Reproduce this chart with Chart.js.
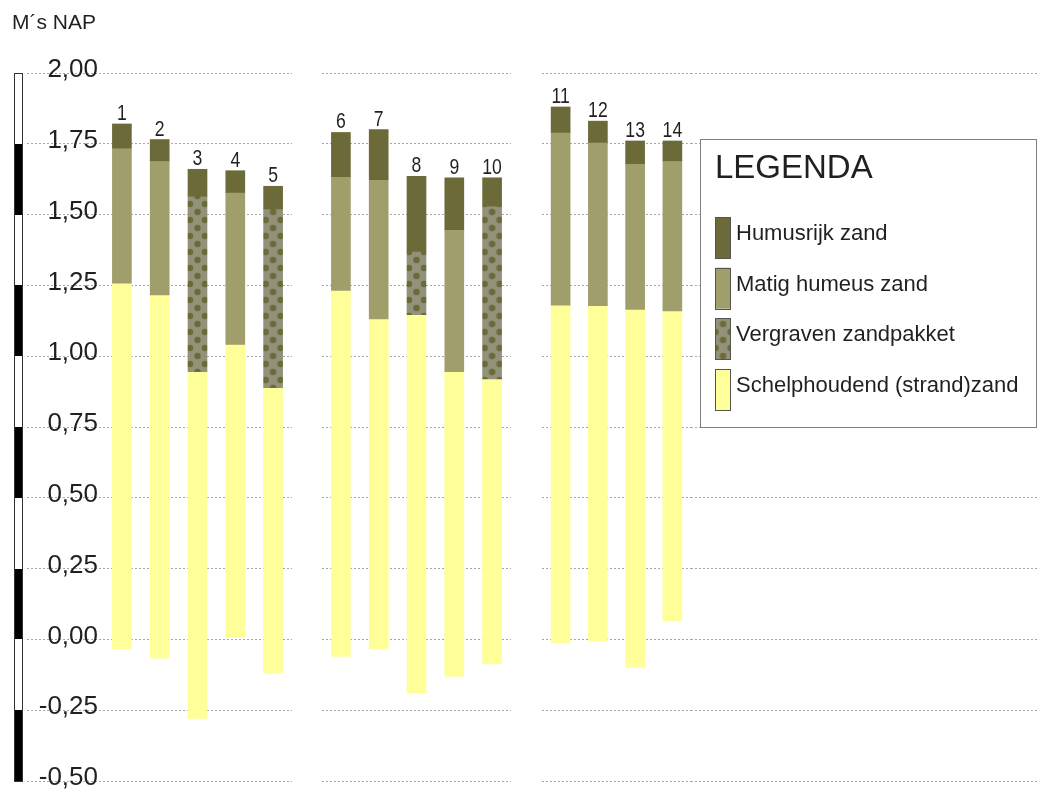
<!DOCTYPE html>
<html lang="nl">
<head>
<meta charset="utf-8">
<title>Boringen - M´s NAP</title>
<script src="https://cdn.jsdelivr.net/npm/chart.js@4.4.1/dist/chart.umd.min.js"></script>
<style>
  html, body { margin: 0; padding: 0; background: #fff; }
  #wrap { position: relative; width: 1037px; height: 793px; overflow: hidden; }
  #wrap canvas { position: absolute; left: 0; top: 0; }
</style>
</head>
<body>
<div id="wrap">
  <canvas id="groep1" width="1037" height="793"></canvas>
  <canvas id="groep2" width="1037" height="793"></canvas>
  <canvas id="groep3" width="1037" height="793"></canvas>
</div>
<script>
// Boringnummers en laaggrenzen (m t.o.v. NAP)
const boringen = ['1', '2', '3', '4', '5', '6', '7', '8', '9', '10', '11', '12', '13', '14'];
const groepen = [[0, 5], [5, 10], [10, 14]];

const bovenkant       = [1.82, 1.765, 1.66, 1.655, 1.60, 1.79, 1.80, 1.635, 1.63, 1.63, 1.88, 1.83, 1.76, 1.76];
const humusrijkOnder  = [1.735, 1.69, 1.565, 1.578, 1.52, 1.634, 1.623, 1.37, 1.447, 1.53, 1.79, 1.755, 1.68, 1.69];
const matigOnder      = [1.258, 1.216, null, 1.042, null, 1.232, 1.132, null, 0.945, null, 1.18, 1.178, 1.165, 1.16];
const vergravenOnder  = [null, null, 0.945, null, 0.889, null, null, 1.147, null, 0.92, null, null, null, null];
const strandzandOnder = [-0.033, -0.066, -0.279, 0.007, -0.118, -0.06, -0.034, -0.19, -0.13, -0.087, -0.012, -0.006, -0.099, 0.065];

const yTicks = [2.0, 1.75, 1.5, 1.25, 1.0, 0.75, 0.5, 0.25, 0, -0.25, -0.5];
const yTickLabels = ['2,00', '1,75', '1,50', '1,25', '1,00', '0,75', '0,50', '0,25', '0,00', '-0,25', '-0,50'];

const kleuren = {
  humusrijk: '#6b6a38',
  matig: '#a09e6b',
  vergravenGrond: '#929179',
  strandzand: '#ffff99',
  tekst: '#231f20',
  raster: '#a8a8a8'
};

// Zwevende balken [onder, boven] per laag
const humusrijk = bovenkant.map((b, i) => [humusrijkOnder[i], b]);
const matig = matigOnder.map((m, i) => m === null ? null : [m, humusrijkOnder[i]]);
const vergraven = vergravenOnder.map((v, i) => v === null ? null : [v, humusrijkOnder[i]]);
const strandzand = strandzandOnder.map((s, i) => [s, matigOnder[i] !== null ? matigOnder[i] : vergravenOnder[i]]);

// Stippelpatroon voor het vergraven zandpakket
const tegel = document.createElement('canvas');
tegel.width = 15;
tegel.height = 16;
(function () {
  const t = tegel.getContext('2d');
  t.fillStyle = kleuren.vergravenGrond;
  t.fillRect(0, 0, 15, 16);
  t.fillStyle = kleuren.humusrijk;
  [[7.5, 4], [0, 12], [15, 12]].forEach(([x, y]) => {
    t.beginPath();
    t.arc(x, y, 3.2, 0, Math.PI * 2);
    t.fill();
  });
})();

function maakPatroon(ctx, middenX) {
  const p = ctx.createPattern(tegel, 'repeat');
  p.setTransform(new DOMMatrix().translate(middenX - 7.5, 0));
  return p;
}

function patroonKleur(c) {
  if (c.type !== 'data' || !c.chart.scales.x) return maakPatroon(c.chart.ctx, 0);
  return maakPatroon(c.chart.ctx, c.chart.scales.x.getPixelForValue(c.dataIndex));
}

// Nummers boven de boringen (smalle letter: horizontaal samengedrukt)
const nummerPlugin = {
  id: 'nummers',
  afterDatasetsDraw(chart) {
    const ctx = chart.ctx;
    const meta = chart.getDatasetMeta(0);
    ctx.save();
    ctx.font = "22px 'Liberation Sans', Arial, sans-serif";
    ctx.fillStyle = kleuren.tekst;
    ctx.textAlign = 'center';
    ctx.textBaseline = 'alphabetic';
    meta.data.forEach((bar, i) => {
      const top = Math.min(bar.y, bar.base);
      ctx.save();
      ctx.translate(bar.x, top - 4);
      ctx.scale(0.8, 1);
      ctx.fillText(chart.data.labels[i], 0, 0);
      ctx.restore();
    });
    ctx.restore();
  }
};

// Y-as tekst, meetlat en eenheid (alleen eerste groep)
const asPlugin = {
  id: 'asTekst',
  afterDraw(chart) {
    const ctx = chart.ctx;
    const y = chart.scales.y;
    ctx.save();

    // meetlat met zwart/wit vakken van 25 cm
    for (let k = 0; k < yTicks.length - 1; k++) {
      const y1 = Math.round(y.getPixelForValue(yTicks[k]));
      const y2 = Math.round(y.getPixelForValue(yTicks[k + 1]));
      ctx.fillStyle = k % 2 === 0 ? '#ffffff' : '#000000';
      ctx.fillRect(15, y1, 7, y2 - y1);
    }
    const top = Math.round(y.getPixelForValue(yTicks[0]));
    const bodem = Math.round(y.getPixelForValue(yTicks[yTicks.length - 1]));
    ctx.strokeStyle = '#333';
    ctx.lineWidth = 1;
    ctx.strokeRect(14.5, top + 0.5, 8, bodem - top);

    ctx.fillStyle = kleuren.tekst;
    ctx.font = "26px 'Liberation Sans', Arial, sans-serif";
    ctx.textAlign = 'right';
    ctx.textBaseline = 'middle';
    yTicks.forEach((v, i) => {
      ctx.fillText(yTickLabels[i], 98, y.getPixelForValue(v) - 3);
    });

    ctx.font = "21px 'Liberation Sans', Arial, sans-serif";
    ctx.textAlign = 'left';
    ctx.textBaseline = 'alphabetic';
    ctx.fillText('M´s NAP', 12, 29);
    ctx.restore();
  }
};

// Legenda-kader rechts (derde groep)
const legendaPlugin = {
  id: 'legenda',
  afterDraw(chart) {
    const ctx = chart.ctx;
    ctx.save();
    ctx.fillStyle = '#ffffff';
    ctx.fillRect(700.5, 139.5, 336, 288);
    ctx.strokeStyle = '#808080';
    ctx.lineWidth = 1;
    ctx.strokeRect(700.5, 139.5, 336, 288);

    ctx.fillStyle = kleuren.tekst;
    ctx.font = "33px 'Liberation Sans', Arial, sans-serif";
    ctx.textBaseline = 'alphabetic';
    ctx.fillText('LEGENDA', 715, 178);

    ctx.font = "22px 'Liberation Sans', Arial, sans-serif";
    chart.data.datasets.forEach((ds, i) => {
      const yTop = 217 + i * 50.7;
      ctx.fillStyle = typeof ds.backgroundColor === 'function'
        ? maakPatroon(ctx, 723)
        : ds.backgroundColor;
      ctx.fillRect(715.5, yTop, 15, 41);
      ctx.strokeStyle = '#555';
      ctx.strokeRect(715.5, Math.round(yTop) + 0.5, 15, 41);
      ctx.fillStyle = kleuren.tekst;
      ctx.fillText(ds.label, 736, yTop + 23);
    });
    ctx.restore();
  }
};

function maakGrafiek(id, g, opties) {
  const [van, tot] = groepen[g];
  const deel = (arr) => arr.slice(van, tot);
  return new Chart(document.getElementById(id), {
    type: 'bar',
    data: {
      labels: deel(boringen),
      datasets: [
        { label: 'Humusrijk zand', data: deel(humusrijk), backgroundColor: kleuren.humusrijk },
        { label: 'Matig humeus zand', data: deel(matig), backgroundColor: kleuren.matig },
        { label: 'Vergraven zandpakket', data: deel(vergraven), backgroundColor: patroonKleur },
        { label: 'Schelphoudend (strand)zand', data: deel(strandzand), backgroundColor: kleuren.strandzand }
      ]
    },
    options: {
      responsive: false,
      animation: false,
      events: [],
      datasets: { bar: { grouped: false, barThickness: 19, borderWidth: 0 } },
      layout: { padding: opties.padding },
      plugins: { legend: { display: false }, tooltip: { enabled: false } },
      scales: {
        x: { display: false },
        y: {
          position: opties.yPos,
          min: -0.5,
          max: 2.0,
          ticks: { display: false, stepSize: 0.25 },
          border: { display: false, dash: [2, 2] },
          grid: {
            color: kleuren.raster,
            drawTicks: opties.tickLength > 0,
            tickLength: opties.tickLength,
            tickBorderDash: [2, 2]
          },
          afterFit: (s) => { s.width = opties.tickLength; }
        }
      }
    },
    plugins: [nummerPlugin].concat(opties.extra || [])
  });
}

maakGrafiek('groep1', 0, {
  yPos: 'left', tickLength: 76,
  padding: { left: 27, right: 745, top: 73, bottom: 12 },
  extra: [asPlugin]
});
maakGrafiek('groep2', 1, {
  yPos: 'left', tickLength: 0,
  padding: { left: 322, right: 526, top: 73, bottom: 12 }
});
maakGrafiek('groep3', 2, {
  yPos: 'right', tickLength: 346,
  padding: { left: 542, right: 0, top: 73, bottom: 12 },
  extra: [legendaPlugin]
});
</script>
</body>
</html>
